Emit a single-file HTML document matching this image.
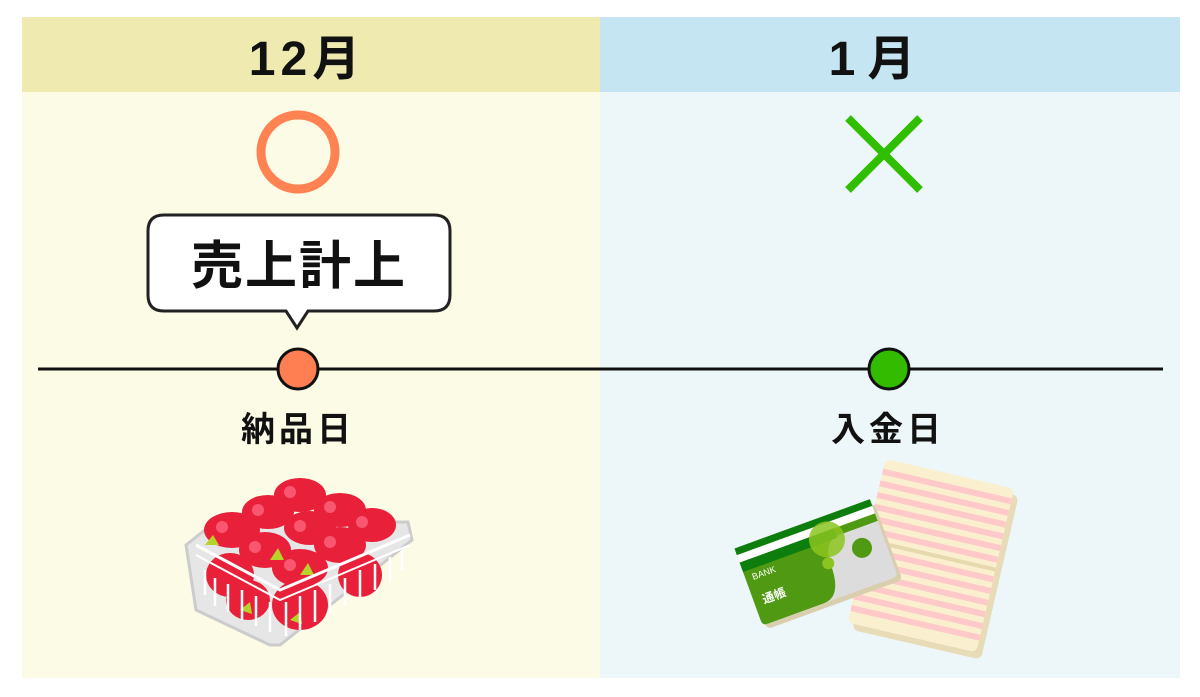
<!DOCTYPE html>
<html><head><meta charset="utf-8"><style>
html,body{margin:0;padding:0;background:#fff;}
body{width:1200px;height:697px;position:relative;overflow:hidden;font-family:"Liberation Sans","Noto Sans CJK JP",sans-serif;}
</style></head><body>
<svg width="1200" height="697" viewBox="0 0 1200 697" xmlns="http://www.w3.org/2000/svg" style="position:absolute;left:0;top:0">
<rect x="22" y="17" width="578" height="75" fill="#efeab0"/>
<rect x="22" y="92" width="578" height="586" fill="#fcfbe6"/>
<rect x="600" y="17" width="580" height="75" fill="#c6e5f2"/>
<rect x="600" y="92" width="580" height="586" fill="#edf6f9"/>
<g font-family="Liberation Sans, Noto Sans CJK JP, sans-serif" font-weight="bold" fill="#111" text-anchor="middle">
<text x="307" y="75" font-size="48" letter-spacing="5">12月</text>
<text x="878" y="75" font-size="48" letter-spacing="12">1月</text>
</g>
<circle cx="298" cy="152" r="37" fill="none" stroke="#ff8253" stroke-width="9"/>
<g stroke="#2fbf00" stroke-width="8"><line x1="848" y1="118" x2="920" y2="190"/><line x1="920" y1="118" x2="848" y2="190"/></g>
<path d="M164 215 H434 Q450 215 450 231 V295 Q450 311 434 311 H308 L297 328 L286 311 H164 Q148 311 148 295 V231 Q148 215 164 215 Z" fill="#fff" stroke="#222" stroke-width="3"/>
<text x="299" y="284" font-size="52" font-weight="bold" text-anchor="middle" font-family="Liberation Sans, Noto Sans CJK JP, sans-serif" fill="#111" letter-spacing="2">売上計上</text>
<line x1="38" y1="369" x2="1163" y2="369" stroke="#111" stroke-width="3"/>
<circle cx="298" cy="369" r="20" fill="#ff7f52" stroke="#111" stroke-width="3"/>
<circle cx="889" cy="369" r="20" fill="#33bb00" stroke="#111" stroke-width="3"/>
<g font-family="Liberation Sans, Noto Sans CJK JP, sans-serif" font-weight="bold" fill="#111" text-anchor="middle" font-size="34">
<text x="298" y="441" letter-spacing="4">納品日</text>
<text x="888" y="441" letter-spacing="4">入金日</text>
</g>
<!-- strawberries -->
<g>
<path d="M186 545 L215 522 L408 522 L412 540 L280 645 L270 645 L196 610 Z" fill="#e6e6e6" stroke="#ccc" stroke-width="3"/>
<g fill="#e8203a">
<ellipse cx="300" cy="495" rx="26" ry="17"/><ellipse cx="268" cy="512" rx="26" ry="17"/><ellipse cx="340" cy="510" rx="26" ry="17"/>
<ellipse cx="232" cy="530" rx="28" ry="18"/><ellipse cx="310" cy="528" rx="26" ry="17"/><ellipse cx="372" cy="525" rx="24" ry="17"/>
<ellipse cx="265" cy="550" rx="26" ry="18"/><ellipse cx="340" cy="545" rx="26" ry="18"/><ellipse cx="300" cy="568" rx="28" ry="19"/>
<ellipse cx="230" cy="575" rx="24" ry="22"/><ellipse cx="360" cy="575" rx="22" ry="22"/><ellipse cx="300" cy="605" rx="28" ry="25"/>
<ellipse cx="248" cy="600" rx="22" ry="20"/>
</g>
<g fill="#ff6f86" opacity="0.7">
<circle cx="290" cy="492" r="6"/><circle cx="258" cy="510" r="6"/><circle cx="330" cy="507" r="6"/><circle cx="222" cy="527" r="6"/><circle cx="300" cy="526" r="6"/><circle cx="362" cy="522" r="6"/><circle cx="255" cy="547" r="6"/><circle cx="330" cy="542" r="6"/><circle cx="290" cy="565" r="6"/>
</g>
<g fill="#b7d22a"><path d="M205 545 l8 -10 l6 10z M270 560 l8 -12 l6 12z M300 575 l8 -12 l6 12z M240 610 l10 -8 l2 12z M290 620 l10 -8 l2 12z"/></g>
<path d="M196 545 L280 590 L410 535" fill="none" stroke="#fff" stroke-width="3"/>
<path d="M196 555 L280 600 L410 545" fill="none" stroke="#fff" stroke-width="2"/>
<g stroke="#fff" stroke-width="2.5" fill="none">
<path d="M205 570 v25 M215 578 v28 M228 584 v28 M242 590 v30 M256 596 v30 M270 602 v30 M286 602 v34 M300 596 v34 M315 590 v32 M330 584 v30 M345 578 v28 M360 570 v28 M375 564 v26 M390 557 v24 M402 550 v20"/>
</g>
</g>
<!-- passbook & card -->
<g>
<g transform="rotate(13 932 560)">
<rect x="870" y="478" width="132" height="168" rx="6" fill="#e8dcb8"/>
<rect x="864" y="472" width="132" height="168" rx="6" fill="#faefce"/>
<g fill="#ffc9c9">
<rect x="864" y="482" width="132" height="6"/><rect x="864" y="494" width="132" height="6"/><rect x="864" y="506" width="132" height="6"/><rect x="864" y="518" width="132" height="6"/><rect x="864" y="530" width="132" height="6"/><rect x="864" y="542" width="132" height="6"/>
<rect x="864" y="562" width="132" height="6"/><rect x="864" y="574" width="132" height="6"/><rect x="864" y="586" width="132" height="6"/><rect x="864" y="598" width="132" height="6"/><rect x="864" y="610" width="132" height="6"/><rect x="864" y="622" width="132" height="6"/>
</g>
<rect x="864" y="553" width="132" height="4" fill="#e6d9b0"/>
</g>
<g transform="rotate(-20 815 565)">
<rect x="748" y="527" width="144" height="82" rx="5" fill="#d9cfae"/>
<rect x="745" y="522" width="144" height="82" rx="5" fill="#dcdcdc"/>
<path d="M745 527 Q745 522 750 522 H889 V545 H850 Q830 545 830 570 Q830 604 810 604 H750 Q745 604 745 599 Z" fill="#4f9a12"/>
<rect x="745" y="522" width="144" height="7" fill="#0d7d0d"/>
<rect x="745" y="529" width="144" height="8" fill="#fff"/>
<rect x="745" y="537" width="100" height="10" fill="#0d7d0d"/>
<circle cx="835" cy="545" r="18" fill="#8cc41f" opacity="0.85"/>
<circle cx="865" cy="565" r="10" fill="#4f9a12"/>
<circle cx="828" cy="568" r="6" fill="#8cc41f"/>
<text x="752" y="558" font-size="9" fill="#fff" font-family="Liberation Sans, sans-serif">BANK</text>
<text x="754" y="584" font-size="12" fill="#fff" font-weight="bold" font-family="Liberation Sans, Noto Sans CJK JP, sans-serif">通帳</text>
</g>
</g>
</svg>
</body></html>
